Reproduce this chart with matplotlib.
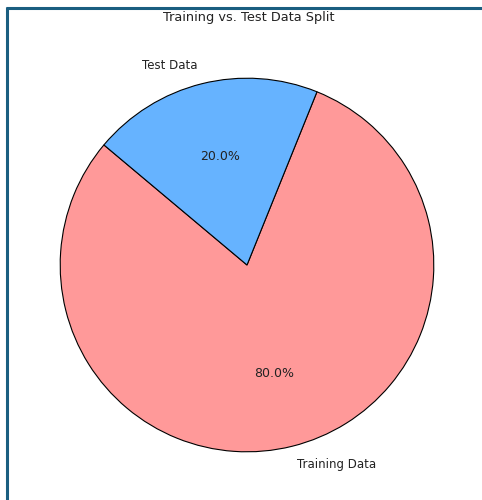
import matplotlib
matplotlib.use('Agg')
import matplotlib.pyplot as plt
from matplotlib.lines import Line2D

labels = ['Training Data', 'Test Data']
sizes = [80, 20]
colors = ['#ff9999', '#66b3ff']

W, H = 482, 500
fig = plt.figure(figsize=(W / 100, H / 100), dpi=100)
fig.patch.set_facecolor('white')

# pie axes: centre ~(247, 265) px, radius ~187 px -> square axes of 2.5 radii
side = 467
cx, cy = 247, 265
ax = fig.add_axes([(cx - side / 2) / W, 1 - (cy + side / 2) / H, side / W, side / H])
wedges, texts, autotexts = ax.pie(
    sizes, labels=labels, colors=colors, autopct='%1.1f%%', startangle=140,
    wedgeprops={'edgecolor': 'black', 'linewidth': 0.8},
    textprops={'fontsize': 8.5, 'color': '#222222'},
)
for t in autotexts:
    t.set_fontsize(9)

fig.text(249 / W, 1 - 18 / H, 'Training vs. Test Data Split',
         ha='center', va='center', fontsize=9.3, color='#222222')

# frame lines along the top and left edges of the picture
frame = '#1a5e80'
fig.add_artist(Line2D([6 / W, 1], [1 - 7.5 / H, 1 - 7.5 / H], color=frame, linewidth=2.2,
                      transform=fig.transFigure, solid_capstyle='butt'))
fig.add_artist(Line2D([7 / W, 7 / W], [0, 1 - 6.5 / H], color=frame, linewidth=2.2,
                      transform=fig.transFigure, solid_capstyle='butt'))

plt.savefig('out.png', dpi=100)
plt.close(fig)
